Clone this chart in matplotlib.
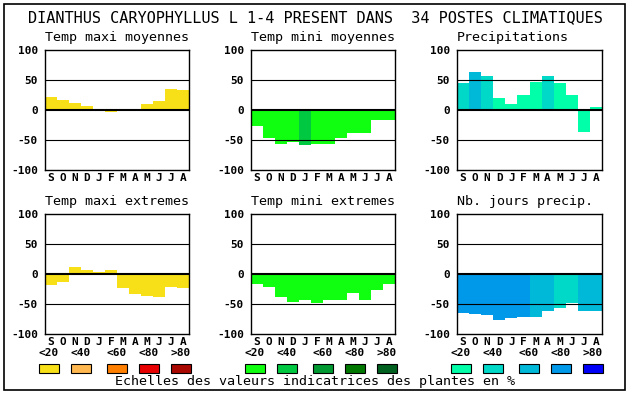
import matplotlib
matplotlib.use("Agg")
import matplotlib.pyplot as plt
from matplotlib.patches import Rectangle

months = ["S", "O", "N", "D", "J", "F", "M", "A", "M", "J", "J", "A"]
yticks = [100, 50, 0, -50, -100]
class_labels = ["<20", "<40", "<60", "<80", ">80"]

title = "DIANTHUS CARYOPHYLLUS L 1-4 PRESENT DANS  34 POSTES CLIMATIQUES"
footer = "Echelles des valeurs indicatrices des plantes en %"

# palettes (one per column)
yellows = ["#f8e018", "#ffb850", "#ff8000", "#e80000", "#a80800"]
greens = ["#10ff10", "#00c840", "#009830", "#007800", "#006020"]
blues = ["#00ffa8", "#00d8c8", "#00b8d8", "#0098e8", "#0000f8"]

# values per panel, plus class index (colour) per month
tmax_moy = [22, 17, 12, 7, 2, -3, 2, 0, 10, 15, 35, 33]
tmax_moy_cls = [0] * 12
tmin_moy = [-27, -46, -56, -54, -58, -56, -56, -46, -38, -38, -16, -16]
tmin_moy_cls = [0, 0, 0, 0, 1, 0, 0, 0, 0, 0, 0, 0]
precip = [45, 63, 57, 20, 10, 25, 47, 57, 45, 25, -37, 5]
precip_cls = [1, 2, 1, 0, 0, 0, 0, 1, 0, 0, 0, 0]
tmax_ext = [-18, -13, 11, 7, 4, 6, -23, -34, -36, -38, -21, -24]
tmax_ext_cls = [0] * 12
tmin_ext = [-16, -21, -38, -46, -43, -48, -44, -43, -31, -43, -26, -16]
tmin_ext_cls = [0] * 12
jours = [-65, -66, -68, -76, -73, -71, -71, -61, -56, -48, -61, -61]
jours_cls = [3, 3, 3, 3, 3, 3, 2, 2, 1, 1, 2, 2]

panels = [
    ("Temp maxi moyennes", tmax_moy, tmax_moy_cls, yellows, (45, 50, 189, 170)),
    ("Temp mini moyennes", tmin_moy, tmin_moy_cls, greens, (251, 50, 395, 170)),
    ("Precipitations", precip, precip_cls, blues, (457, 50, 602, 170)),
    ("Temp maxi extremes", tmax_ext, tmax_ext_cls, yellows, (45, 214, 189, 334)),
    ("Temp mini extremes", tmin_ext, tmin_ext_cls, greens, (251, 214, 395, 334)),
    ("Nb. jours precip.", jours, jours_cls, blues, (457, 214, 602, 334)),
]

W, H = 630, 394
MONO = "DejaVu Sans Mono"


def px(x0, y0, x1, y1):
    return [x0 / W, 1 - y1 / H, (x1 - x0) / W, (y1 - y0) / H]


fig = plt.figure(figsize=(6.3, 3.94), dpi=100)
fig.patch.set_facecolor("white")

# outer frame
fig.patches.append(Rectangle((4 / W, 1 - 390 / H), 621 / W, 386 / H,
                             transform=fig.transFigure, fill=False,
                             edgecolor="black", linewidth=1.2))

fig.text(315 / W, 1 - 18 / H, title, ha="center", va="center",
         family=MONO, fontsize=11)

for name, vals, cls, pal, box in panels:
    ax = fig.add_axes(px(*box))
    x = list(range(12))
    ax.bar(x, vals, width=1.0, color=[pal[c] for c in cls], zorder=1)
    for v in (50, -50):
        ax.axhline(v, color="black", linewidth=0.8, zorder=3)
    ax.axhline(0, color="black", linewidth=1.5, zorder=3)
    ax.set_xlim(-0.5, 11.5)
    ax.set_ylim(-100, 100)
    ax.set_yticks(yticks)
    ax.set_yticklabels([str(t) for t in yticks], family=MONO,
                       fontweight="bold", fontsize=8)
    ax.set_xticks(x)
    ax.set_xticklabels(months, family=MONO, fontweight="bold", fontsize=8)
    ax.tick_params(length=0)
    ax.tick_params(axis="y", pad=5)
    ax.tick_params(axis="x", pad=2)
    for s in ax.spines.values():
        s.set_linewidth(1.0)
    fig.text(box[0] / W, 1 - (box[1] - 12) / H, name, ha="left",
             va="center", family=MONO, fontsize=9.6)

# legend rows
legend_x = [
    (yellows, [39, 71, 107, 139, 171]),
    (greens, [245, 277, 313, 345, 377]),
    (blues, [451, 483, 519, 551, 583]),
]
for pal, xs in legend_x:
    for c, x0, lab in zip(pal, xs, class_labels):
        fig.patches.append(Rectangle((x0 / W, 1 - 373 / H), 20 / W, 9 / H,
                                     transform=fig.transFigure,
                                     facecolor=c, edgecolor="black",
                                     linewidth=0.8))
        fig.text((x0 + 10) / W, 1 - 353 / H, lab, ha="center", va="center",
                 family=MONO, fontweight="bold", fontsize=8)

fig.text(315 / W, 1 - 382 / H, footer, ha="center", va="center",
         family=MONO, fontsize=9.6)

fig.savefig("out.png", dpi=100)
